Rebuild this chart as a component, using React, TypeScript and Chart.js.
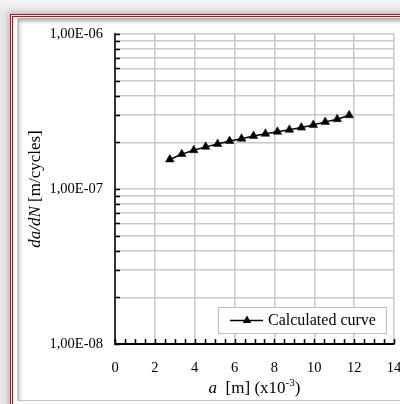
import React, { useEffect, useRef } from "react";
import { Chart, registerables } from "chart.js";

Chart.register(...registerables);

// ---- data ----
const seriesLabel = "Calculated curve";
const aValues = [2.75, 3.35, 3.95, 4.55, 5.15, 5.75, 6.35, 6.95, 7.55, 8.15, 8.75, 9.35, 9.95, 10.55, 11.15, 11.75];
const dadnValues = [1.55e-7, 1.68e-7, 1.78e-7, 1.87e-7, 1.95e-7, 2.04e-7, 2.11e-7, 2.2e-7, 2.27e-7, 2.34e-7, 2.41e-7, 2.49e-7, 2.59e-7, 2.71e-7, 2.82e-7, 2.99e-7];
const xTickValues = [0, 0.5, 1, 1.5, 2, 2.5, 3, 3.5, 4, 4.5, 5, 5.5, 6, 6.5, 7, 7.5, 8, 8.5, 9, 9.5, 10, 10.5, 11, 11.5, 12, 12.5, 13, 13.5, 14];
const xLabelValues = [0, 2, 4, 6, 8, 10, 12, 14];
const yTickValues = [
  1e-8, 2e-8, 3e-8, 4e-8, 5e-8, 6e-8, 7e-8, 8e-8, 9e-8,
  1e-7, 2e-7, 3e-7, 4e-7, 5e-7, 6e-7, 7e-7, 8e-7, 9e-7,
  1e-6,
];
const yLabelValues = [1e-8, 1e-7, 1e-6];

const SERIF = "'Liberation Serif', 'Times New Roman', serif";
const GRID = "#c8c8c8";

const isLabelX = (v: number) => xLabelValues.some((l) => Math.abs(l - v) < 1e-9);
const isLabelY = (v: number) => yLabelValues.some((l) => Math.abs(l - v) / l < 1e-6);
const fmtSci = (v: number) => {
  const e = Math.round(Math.log10(v));
  const m = v / Math.pow(10, e);
  const sign = e < 0 ? "-" : "+";
  return m.toFixed(2).replace(".", ",") + "E" + sign + String(Math.abs(e)).padStart(2, "0");
};

const decorPlugin = {
  id: "decor",
  afterDraw(chart: any) {
    const { ctx, chartArea } = chart;
    const { left, right, top, bottom } = chartArea;
    const xs = chart.scales.x;
    const ys = chart.scales.y;
    ctx.save();
    // inward tick marks
    ctx.strokeStyle = "#000";
    ctx.lineWidth = 1.5;
    ctx.beginPath();
    xTickValues.forEach((v) => {
      const px = Math.round(xs.getPixelForValue(v)) + 0.5;
      ctx.moveTo(px, bottom);
      ctx.lineTo(px, bottom - 5);
    });
    yTickValues.forEach((v) => {
      const py = Math.round(ys.getPixelForValue(v)) + 0.5;
      ctx.moveTo(left, py);
      ctx.lineTo(left + 5, py);
    });
    ctx.stroke();

    // legend
    const bx1 = right - 176;
    const bx2 = right - 8;
    const by1 = bottom - 37;
    const by2 = bottom - 11;
    ctx.fillStyle = "#fff";
    ctx.fillRect(bx1, by1, bx2 - bx1, by2 - by1);
    ctx.strokeStyle = "#bdbdbd";
    ctx.lineWidth = 1;
    ctx.strokeRect(bx1 + 0.5, by1 + 0.5, bx2 - bx1, by2 - by1);
    const ly = (by1 + by2) / 2 + 0.5;
    ctx.strokeStyle = "#000";
    ctx.lineWidth = 1.5;
    ctx.beginPath();
    ctx.moveTo(bx1 + 12, ly);
    ctx.lineTo(bx1 + 45, ly);
    ctx.stroke();
    const tx = bx1 + 29;
    const r = 5;
    ctx.fillStyle = "#000";
    ctx.beginPath();
    ctx.moveTo(tx, ly - r);
    ctx.lineTo(tx + r * Math.sin(Math.PI * 2 / 3), ly - r * Math.cos(Math.PI * 2 / 3));
    ctx.lineTo(tx - r * Math.sin(Math.PI * 2 / 3), ly - r * Math.cos(Math.PI * 2 / 3));
    ctx.closePath();
    ctx.fill();
    ctx.font = `16px ${SERIF}`;
    ctx.textBaseline = "middle";
    ctx.textAlign = "left";
    ctx.fillText(seriesLabel, bx1 + 50, ly);

    // y axis title (mixed styles)
    const italic = `italic 17px ${SERIF}`;
    const normal = `17px ${SERIF}`;
    ctx.save();
    ctx.translate(35.5, (top + bottom) / 2);
    ctx.rotate(-Math.PI / 2);
    const p1 = "da/dN";
    const p2 = " [m/cycles]";
    ctx.font = italic;
    const w1 = ctx.measureText(p1).width;
    ctx.font = normal;
    const w2 = ctx.measureText(p2).width;
    let cx = -(w1 + w2) / 2;
    ctx.textBaseline = "middle";
    ctx.font = italic;
    ctx.fillText(p1, cx, 0);
    cx += w1;
    ctx.font = normal;
    ctx.fillText(p2, cx, 0);
    ctx.restore();

    // x axis title
    const q1 = "a";
    const q2 = "  [m] (x10";
    const q3 = "-3";
    const q4 = ")";
    const sup = `11px ${SERIF}`;
    ctx.font = italic;
    const m1 = ctx.measureText(q1).width;
    ctx.font = normal;
    const m2 = ctx.measureText(q2).width;
    const m4 = ctx.measureText(q4).width;
    ctx.font = sup;
    const m3 = ctx.measureText(q3).width;
    let x0 = (left + right) / 2 - (m1 + m2 + m3 + m4) / 2;
    const base = 393;
    ctx.textBaseline = "alphabetic";
    ctx.font = italic;
    ctx.fillText(q1, x0, base);
    x0 += m1;
    ctx.font = normal;
    ctx.fillText(q2, x0, base);
    x0 += m2;
    ctx.font = sup;
    ctx.fillText(q3, x0, base - 7);
    x0 += m3;
    ctx.font = normal;
    ctx.fillText(q4, x0, base);
    ctx.restore();
  },
};

export default function App() {
  const ref = useRef<HTMLCanvasElement>(null);
  useEffect(() => {
    document.body.style.margin = "0";
    const canvas = ref.current!;
    const chart = new Chart(canvas, {
      type: "line",
      data: {
        datasets: [
          {
            label: seriesLabel,
            data: aValues.map((x, i) => ({ x, y: dadnValues[i] })),
            borderColor: "#000",
            backgroundColor: "#000",
            pointBackgroundColor: "#000",
            pointBorderColor: "#000",
            borderWidth: 1.5,
            pointStyle: "triangle",
            pointRadius: 5,
            pointBorderWidth: 0.5,
            tension: 0,
          },
        ],
      },
      options: {
        responsive: false,
        animation: false,
        devicePixelRatio: 1,
        layout: { padding: { left: 51, top: 34, right: 26, bottom: 20 } },
        plugins: { legend: { display: false }, tooltip: { enabled: false } },
        scales: {
          x: {
            type: "linear",
            min: 0,
            max: 14,
            afterBuildTicks: (s: any) => {
              s.ticks = xTickValues.map((v) => ({ value: v }));
            },
            afterFit: (s: any) => {
              s.height = 40;
            },
            grid: {
              color: (c: any) => (c.tick && isLabelX(c.tick.value) ? GRID : "rgba(0,0,0,0)"),
              lineWidth: 1.5,
              drawTicks: false,
            },
            border: { color: "#000", width: 2 },
            ticks: {
              autoSkip: false,
              maxRotation: 0,
              padding: 15,
              color: "#000",
              font: { family: SERIF, size: 14.5 },
              callback: (v: any) => (isLabelX(Number(v)) ? String(v) : ""),
            },
          },
          y: {
            type: "logarithmic",
            min: 1e-8,
            max: 1e-6,
            afterBuildTicks: (s: any) => {
              s.ticks = yTickValues.map((v) => ({ value: v }));
            },
            afterFit: (s: any) => {
              s.width = 64;
            },
            grid: { color: GRID, lineWidth: 1.5, drawTicks: false },
            border: { color: "#333", width: 2 },
            ticks: {
              autoSkip: false,
              padding: 12,
              color: "#000",
              font: { family: SERIF, size: 14.5 },
              callback: (v: any) => (isLabelY(Number(v)) ? fmtSci(Number(v)) : ""),
            },
          },
        },
      },
      plugins: [decorPlugin],
    } as any);
    return () => chart.destroy();
  }, []);

  return (
    <div
      style={{
        position: "fixed",
        left: 0,
        top: 0,
        width: 400,
        height: 404,
        overflow: "hidden",
        background: "linear-gradient(#f4f4f4, #e6e6e6 14px)",
      }}
    >
      <div
        style={{
          position: "absolute",
          left: 10,
          top: 14,
          width: 430,
          height: 420,
          boxSizing: "border-box",
          border: "3px double #e00000",
          background: "#fff",
          boxShadow: "0 0 6px 2px rgba(0,0,0,0.18)",
        }}
      />
      <div
        style={{
          position: "absolute",
          left: 17,
          top: 18,
          width: 420,
          height: 383,
          boxSizing: "border-box",
          borderLeft: "1px solid #c4c4c4",
          borderBottom: "1px solid #c4c4c4",
          background: "#fff",
          boxShadow: "inset 2px 4px 4px -1px rgba(0,0,0,0.35)",
        }}
      />
      <canvas
        ref={ref}
        width={420}
        height={404}
        style={{ position: "absolute", left: 0, top: 0, display: "block" }}
      />
    </div>
  );
}
